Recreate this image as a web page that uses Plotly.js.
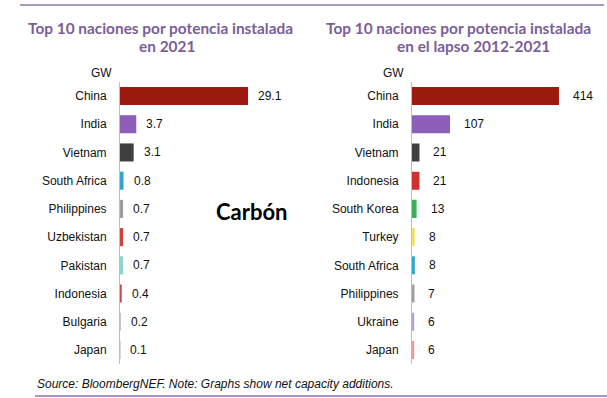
<!DOCTYPE html>
<html>
<head>
<meta charset="utf-8">
<script src="https://cdn.plot.ly/plotly-3.0.1.min.js"></script>
<style>html,body{margin:0;padding:0;background:#fff;}#chart{width:607px;height:398px;}</style>
</head>
<body>
<div id="chart"></div>
<script>
// ---- Data ----
const countries2021 = ["China","India","Vietnam","South Africa","Philippines","Uzbekistan","Pakistan","Indonesia","Bulgaria","Japan"];
const values2021 = [29.1, 3.7, 3.1, 0.8, 0.7, 0.7, 0.7, 0.4, 0.2, 0.1];
const colors2021 = ["#9B1B0E","#8E5FB8","#404040","#2FA5D0","#9E9E9E","#D0413A","#8ED3CC","#C0504D","#BFBFBF","#A6A6A6"];

const countries2012_2021 = ["China","India","Vietnam","Indonesia","South Korea","Turkey","South Africa","Philippines","Ukraine","Japan"];
const values2012_2021 = [414, 107, 21, 21, 13, 8, 8, 7, 6, 6];
const colors2012_2021 = ["#9B1B0E","#8E5FB8","#404040","#D0312D","#3CB058","#F0E070","#2FA5D0","#9E9E9E","#B0A0D0","#E89A90"];

const titleLeft = ["Top 10 naciones por potencia instalada", "en 2021"];
const titleRight = ["Top 10 naciones por potencia instalada", "en el lapso 2012-2021"];
const unitLabel = "GW";
const centerLabel = "Carbón";
const sourceText = "Source: BloombergNEF. Note: Graphs show net capacity additions.";

// ---- Layout helpers ----
const W = 607, H = 398;
const px = x => x / W;
const py = y => 1 - y / H;

const baseFont = {family: "Liberation Sans, Arial, sans-serif", size: 12, color: "#111"};
const titleFont = {family: "Lato, Calibri, sans-serif", size: 15.4, color: "#7B5E98", weight: "bold"};

const traces = [
  {type: "bar", orientation: "h", x: values2021, y: countries2021, xaxis: "x", yaxis: "y",
   marker: {color: colors2021}, hoverinfo: "skip"},
  {type: "bar", orientation: "h", x: values2012_2021, y: countries2012_2021, xaxis: "x2", yaxis: "y2",
   marker: {color: colors2012_2021}, hoverinfo: "skip"}
];

const annotations = [];
values2021.forEach((v, i) => annotations.push({
  xref: "x", yref: "y", x: v, y: countries2021[i], text: v.toFixed(1),
  xanchor: "left", yanchor: "middle", xshift: 8, showarrow: false, font: baseFont
}));
values2012_2021.forEach((v, i) => annotations.push({
  xref: "x2", yref: "y2", x: v, y: countries2012_2021[i], text: String(v),
  xanchor: "left", yanchor: "middle", xshift: 12, showarrow: false, font: baseFont
}));
// titles
[[titleLeft[0], 160, 28], [titleLeft[1], 167, 46], [titleRight[0], 458, 28], [titleRight[1], 473, 46]].forEach(t => {
  annotations.push({xref: "paper", yref: "paper", x: px(t[1]), y: py(t[2]), text: "<b>" + t[0] + "</b>",
    xanchor: "center", yanchor: "middle", showarrow: false, font: titleFont});
});
// GW labels
annotations.push({xref: "paper", yref: "paper", x: px(114), y: py(73), text: unitLabel, xanchor: "right", yanchor: "middle", showarrow: false, font: baseFont});
annotations.push({xref: "paper", yref: "paper", x: px(406), y: py(73), text: unitLabel, xanchor: "right", yanchor: "middle", showarrow: false, font: baseFont});
// Carbón
annotations.push({xref: "paper", yref: "paper", x: px(251), y: py(211), text: "<b>" + centerLabel + "</b>", xanchor: "center", yanchor: "middle", showarrow: false,
  font: {family: "Lato, Calibri, sans-serif", size: 22, color: "#000"}});
// Source
annotations.push({xref: "paper", yref: "paper", x: px(35), y: py(384), text: "<i>" + sourceText + "</i>", xanchor: "left", yanchor: "middle", showarrow: false,
  font: {family: "Liberation Sans, Arial, sans-serif", size: 12, color: "#111"}});

const yTop = 81.9, yBot = 364.1;
const yaxisCommon = {
  type: "category", autorange: "reversed", showgrid: false, zeroline: false,
  showline: true, linecolor: "#BFBFBF", linewidth: 1, ticks: "", ticklabelstandoff: 10,
  tickfont: baseFont, fixedrange: true
};
const xaxisCommon = {showgrid: false, zeroline: false, showline: false, showticklabels: false, ticks: "", fixedrange: true};

const layout = {
  width: W, height: H, margin: {l: 0, r: 0, t: 0, b: 0},
  paper_bgcolor: "#fff", plot_bgcolor: "rgba(0,0,0,0)",
  showlegend: false, bargap: 0.36,
  xaxis: Object.assign({}, xaxisCommon, {domain: [px(120), px(296)], range: [0, 40], anchor: "y"}),
  yaxis: Object.assign({}, yaxisCommon, {domain: [py(yBot), py(yTop)], anchor: "x"}),
  xaxis2: Object.assign({}, xaxisCommon, {domain: [px(412), px(589.5)], range: [0, 500], anchor: "y2"}),
  yaxis2: Object.assign({}, yaxisCommon, {domain: [py(yBot), py(yTop)], anchor: "x2"}),
  annotations: annotations,
  shapes: [
    {type: "line", xref: "paper", yref: "paper", x0: px(20), x1: px(604), y0: py(5), y1: py(5), line: {color: "#A898C0", width: 2}},
    {type: "line", xref: "paper", yref: "paper", x0: px(35), x1: px(607), y0: py(396), y1: py(396), line: {color: "#A898C0", width: 2}}
  ]
};

Plotly.newPlot("chart", traces, layout, {staticPlot: true, displayModeBar: false});
</script>
</body>
</html>
